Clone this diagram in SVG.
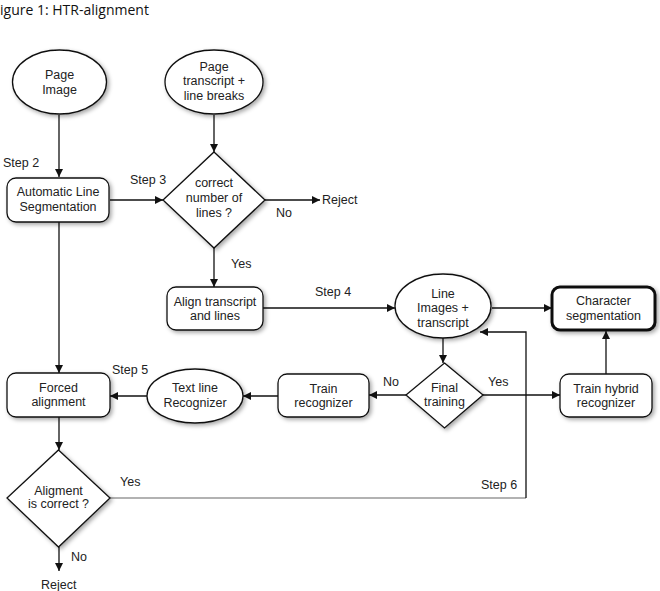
<svg xmlns="http://www.w3.org/2000/svg" width="660" height="591" viewBox="0 0 660 591">
<style>
text{font-family:"Liberation Sans",Arial,sans-serif;font-size:12.5px;fill:#222;}
.c{text-anchor:middle;}
.shape{fill:#fff;stroke:#111;stroke-width:1.3;filter:url(#sh);}
.thick{fill:#fff;stroke:#111;stroke-width:3;filter:url(#sh);}
.ln{fill:none;stroke:#111;stroke-width:1.3;}
.gl{fill:none;stroke:#666;stroke-width:1.2;}
.title{font-family:"Open Sans","Liberation Sans",sans-serif;font-size:14px;fill:#111;}
</style>
<defs>
<filter id="sh" x="-20%" y="-20%" width="150%" height="150%">
<feDropShadow dx="2" dy="2" stdDeviation="2" flood-color="#000" flood-opacity="0.35"/>
</filter>
<marker id="ah" viewBox="0 0 10 10" refX="10" refY="5" markerWidth="9" markerHeight="8" markerUnits="userSpaceOnUse" orient="auto">
<path d="M0,0 L10,5 L0,10 z" fill="#111"/>
</marker>
</defs>
<rect width="660" height="591" fill="#fff"/>
<text class="title" x="0" y="15">igure 1: HTR-alignment</text>

<g id="connectors">
<line class="ln" x1="59" y1="115" x2="59" y2="177" marker-end="url(#ah)"/>
<line class="ln" x1="214" y1="115" x2="214" y2="152" marker-end="url(#ah)"/>
<line class="ln" x1="110" y1="200" x2="163" y2="200" marker-end="url(#ah)"/>
<line class="ln" x1="265" y1="200" x2="320" y2="200" marker-end="url(#ah)"/>
<line class="ln" x1="214" y1="248" x2="214" y2="287" marker-end="url(#ah)"/>
<line class="ln" x1="263" y1="308" x2="395" y2="308" marker-end="url(#ah)"/>
<line class="ln" x1="492" y1="308" x2="552" y2="308" marker-end="url(#ah)"/>
<line class="ln" x1="443" y1="338" x2="443" y2="363" marker-end="url(#ah)"/>
<line class="ln" x1="406" y1="395" x2="369" y2="395" marker-end="url(#ah)"/>
<line class="ln" x1="483" y1="395" x2="560" y2="395" marker-end="url(#ah)"/>
<line class="ln" x1="606" y1="374" x2="606" y2="331" marker-end="url(#ah)"/>
<line class="ln" x1="278" y1="396" x2="243" y2="396" marker-end="url(#ah)"/>
<line class="ln" x1="147" y1="396" x2="110" y2="396" marker-end="url(#ah)"/>
<line class="ln" x1="59" y1="222" x2="59" y2="373" marker-end="url(#ah)"/>
<line class="ln" x1="59" y1="417" x2="59" y2="450" marker-end="url(#ah)"/>
<line class="ln" x1="59" y1="547" x2="59" y2="571" marker-end="url(#ah)"/>
<polyline class="gl" points="110,498 526,498"/>
<polyline class="ln" points="526,498 526,332 480,332" marker-end="url(#ah)"/>
</g>

<g id="labels">
<text x="3" y="167">Step 2</text>
<text x="130" y="184">Step 3</text>
<text x="276" y="217">No</text>
<text x="322" y="204">Reject</text>
<text x="231" y="268">Yes</text>
<text x="315" y="296">Step 4</text>
<text x="383" y="386">No</text>
<text x="488" y="386">Yes</text>
<text x="112" y="374">Step 5</text>
<text x="120" y="486">Yes</text>
<text x="481" y="489">Step 6</text>
<text x="71" y="561">No</text>
<text x="41" y="589">Reject</text>
</g>

<g id="page-image">
<ellipse class="shape" cx="59.5" cy="82" rx="47" ry="32"/>
<text class="c" x="59.5" y="79">Page</text>
<text class="c" x="59.5" y="94">Image</text>
</g>

<g id="page-transcript">
<ellipse class="shape" cx="214" cy="82" rx="49" ry="32"/>
<text class="c" x="214" y="71">Page</text>
<text class="c" x="214" y="85">transcript +</text>
<text class="c" x="214" y="100">line breaks</text>
</g>

<g id="auto-line-seg">
<rect class="shape" x="7" y="178" width="102" height="44" rx="9"/>
<text class="c" x="58" y="196">Automatic Line</text>
<text class="c" x="58" y="211">Segmentation</text>
</g>

<g id="correct-lines">
<polygon class="shape" points="214,152 265,200 214,248 163,200"/>
<text class="c" x="214" y="187">correct</text>
<text class="c" x="214" y="202">number of</text>
<text class="c" x="214" y="217">lines ?</text>
</g>

<g id="align-transcript">
<rect class="shape" x="167" y="287" width="96" height="43" rx="9"/>
<text class="c" x="215" y="306">Align transcript</text>
<text class="c" x="215" y="320">and lines</text>
</g>

<g id="line-images">
<ellipse class="shape" cx="443" cy="306" rx="48" ry="32"/>
<text class="c" x="443" y="298">Line</text>
<text class="c" x="443" y="312">Images +</text>
<text class="c" x="443" y="327">transcript</text>
</g>

<g id="char-seg">
<rect class="thick" x="552" y="287" width="103" height="43" rx="8"/>
<text class="c" x="603.5" y="305">Character</text>
<text class="c" x="603.5" y="320">segmentation</text>
</g>

<g id="final-training">
<polygon class="shape" points="444.5,363 483,395 444.5,428 406,395"/>
<text class="c" x="444.5" y="392">Final</text>
<text class="c" x="444.5" y="406">training</text>
</g>

<g id="train-hybrid">
<rect class="shape" x="560" y="374" width="92" height="43" rx="9"/>
<text class="c" x="606" y="393">Train hybrid</text>
<text class="c" x="606" y="407">recognizer</text>
</g>

<g id="train-recognizer">
<rect class="shape" x="278" y="374" width="91" height="43" rx="9"/>
<text class="c" x="323.5" y="393">Train</text>
<text class="c" x="323.5" y="407">recognizer</text>
</g>

<g id="text-line-recognizer">
<ellipse class="shape" cx="195" cy="396" rx="48" ry="27"/>
<text class="c" x="195" y="392">Text line</text>
<text class="c" x="195" y="407">Recognizer</text>
</g>

<g id="forced-alignment">
<rect class="shape" x="7" y="373" width="103" height="44" rx="9"/>
<text class="c" x="58.5" y="392">Forced</text>
<text class="c" x="58.5" y="406">alignment</text>
</g>

<g id="alignment-correct">
<polygon class="shape" points="58.5,450 110,498 58.5,547 7,498"/>
<text class="c" x="58.5" y="495">Aligment</text>
<text class="c" x="58.5" y="508">is correct ?</text>
</g>
</svg>
